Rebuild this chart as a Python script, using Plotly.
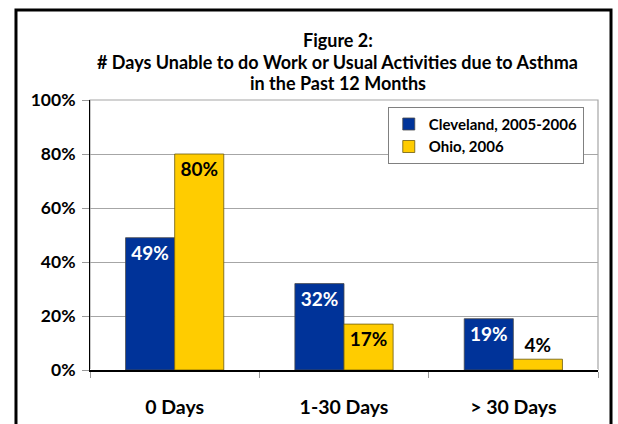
import plotly.graph_objects as go

categories = ['0 Days', '1-30 Days', '> 30 Days']
cleveland = [49, 32, 19]
ohio = [80, 17, 4]
y_ticks = [0, 20, 40, 60, 80, 100]
title_lines = ['Figure 2:',
               '# Days Unable to do Work or Usual Activities due to Asthma',
               'in the Past 12 Months']

FONT = 'Lato'

fig = go.Figure()
fig.add_trace(go.Bar(
    x=categories, y=cleveland, name='Cleveland, 2005-2006',
    marker=dict(color='#003399', line=dict(color='#4a4a4a', width=0.8)),
    text=[f'{v}%' for v in cleveland],
    textposition='inside', insidetextanchor='end',
    textfont=dict(color='white', size=19, family=FONT, weight='bold'),
))
fig.add_trace(go.Bar(
    x=categories, y=ohio, name='Ohio, 2006',
    marker=dict(color='#FFCC00', line=dict(color='#6b5a10', width=0.8)),
    text=[f'{v}%' for v in ohio],
    textposition=['inside', 'inside', 'outside'], insidetextanchor='end',
    insidetextfont=dict(color='black', size=19, family=FONT, weight='bold'),
    outsidetextfont=dict(color='black', size=19, family=FONT, weight='bold'),
    cliponaxis=False,
))

fig.update_layout(
    width=618, height=424,
    margin=dict(l=90, r=20, t=100, b=54),
    paper_bgcolor='white', plot_bgcolor='white',
    font=dict(family=FONT, color='black'),
    barmode='group', bargap=0.42, bargroupgap=0,
    uniformtext=dict(mode='show', minsize=8),
    legend=dict(
        x=0.972, y=0.975, xanchor='right', yanchor='top',
        bgcolor='white', bordercolor='#808080', borderwidth=1,
        font=dict(size=15, family=FONT, weight='bold'),
        itemwidth=30, tracegroupgap=0,
    ),
    showlegend=True,
)
# title lines as separate annotations for exact spacing
for line, ty in zip(title_lines, [1.222, 1.141, 1.063]):
    fig.add_annotation(text=line, xref='paper', yref='paper', x=0.488, y=ty,
                       showarrow=False, xanchor='center', yanchor='middle',
                       font=dict(size=18, family=FONT, weight='bold'))

fig.update_xaxes(
    showline=True, linecolor='black', linewidth=1.5,
    ticks='outside', ticklen=6, tickcolor='#999999', tickson='boundaries',
    ticklabelstandoff=19, automargin=False,
    tickfont=dict(size=19.5, family=FONT, weight='bold'),
)
fig.update_yaxes(
    range=[0, 100], tickvals=y_ticks, ticktext=[f'{v}%' for v in y_ticks],
    showline=True, linecolor='black', linewidth=1,
    ticks='outside', ticklen=7, tickcolor='#999999',
    showgrid=True, gridcolor='#a6a6a6', gridwidth=1,
    ticklabelstandoff=3, automargin=False,
    tickfont=dict(size=17.5, family=FONT, weight='bold'),
)
# gray plot-area frame (top/right) and outer black border
fig.add_shape(type='rect', xref='paper', yref='paper', x0=0, x1=1, y0=0, y1=1,
              line=dict(color='#a6a6a6', width=1.2), layer='below')
fig.add_shape(type='rect', xref='paper', yref='paper',
              x0=-0.1457, x1=1.0256, y0=-0.25, y1=1.333,
              line=dict(color='black', width=3), layer='above')

fig.write_html('out.html', config={'displayModeBar': False},
               post_script="document.body.style.margin='0';")
